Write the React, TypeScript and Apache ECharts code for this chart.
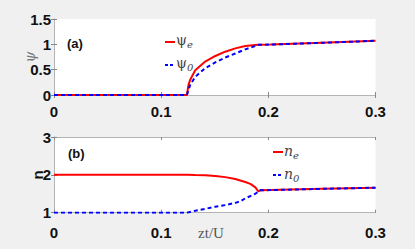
import React, { useEffect, useRef } from "react";
import * as echarts from "echarts";

const tPsi = [0, 0.05, 0.1, 0.124, 0.1255, 0.1271, 0.1318, 0.1411, 0.1505, 0.1598, 0.1692, 0.1785, 0.1879, 0.1907, 0.2019, 0.25, 0.3];
const psiE = [0, 0, 0, 0, 0.2, 0.3, 0.49, 0.66, 0.77, 0.855, 0.92, 0.967, 0.985, 0.99, 0.995, 1.03, 1.07];
const psi0 = [0, 0, 0, 0, 0.1, 0.2, 0.36, 0.53, 0.645, 0.74, 0.82, 0.9, 0.967, 0.99, 0.995, 1.03, 1.07];

const tN = [0, 0.05, 0.1, 0.124, 0.1318, 0.1411, 0.1505, 0.1598, 0.1692, 0.1738, 0.1785, 0.1832, 0.1879, 0.1907, 0.1925, 0.25, 0.3];
const nE = [2, 2, 2, 2, 1.995, 1.99, 1.97, 1.94, 1.89, 1.85, 1.81, 1.76, 1.67, 1.56, 1.59, 1.63, 1.66];
const n0 = [1, 1, 1, 1, 1.05, 1.1, 1.16, 1.2, 1.26, 1.3, 1.38, 1.44, 1.5, 1.56, 1.59, 1.63, 1.66];

const xTicks = [0, 0.1, 0.2, 0.3];
const psiTicks = [0, 0.5, 1, 1.5];
const nTicks = [1, 2, 3];

const RED = "#ff0000";
const BLUE = "#0000ff";
const BOX = "#b4b4b4";
const TICKFONT = "'Liberation Sans Narrow', 'Arial Narrow', Arial, sans-serif";

function pairs(xs: number[], ys: number[]) {
  return xs.map((x, i) => [x, ys[i]]);
}

export default function App() {
  const ref = useRef<HTMLDivElement>(null);
  useEffect(() => {
    document.body.style.background = "#f0f0f0";
    const chart = echarts.init(ref.current!, null, { renderer: "svg" });
    const labelStyle = {
      color: "#111",
      fontFamily: TICKFONT,
      fontWeight: "bold" as const,
      fontSize: 15,
    };
    const mkX = (gridIndex: number, margin: number) => [
      {
        type: "value", gridIndex, min: 0, max: 0.3, interval: 0.1, position: "bottom",
        axisLine: { show: true, lineStyle: { color: BOX, width: 1 } },
        axisTick: { show: true, inside: true, length: 3, lineStyle: { color: "#888" } },
        axisLabel: { ...labelStyle, margin, formatter: (v: number) => (xTicks.includes(Math.round(v * 10) / 10) ? String(Math.round(v * 10) / 10) : "") },
        splitLine: { show: false },
      },
      {
        type: "value", gridIndex, min: 0, max: 0.3, interval: 0.1, position: "top",
        axisLine: { show: true, lineStyle: { color: BOX, width: 1 } },
        axisTick: { show: true, inside: true, length: 3, lineStyle: { color: "#888" } },
        axisLabel: { show: false },
        splitLine: { show: false },
      },
    ];
    const mkY = (gridIndex: number, min: number, max: number, interval: number) => [
      {
        type: "value", gridIndex, min, max, interval, position: "left",
        axisLine: { show: true, lineStyle: { color: BOX, width: 1 } },
        axisTick: { show: true, inside: true, length: 3, lineStyle: { color: "#888" } },
        axisLabel: { ...labelStyle, margin: 3 },
        splitLine: { show: false },
      },
      {
        type: "value", gridIndex, min, max, interval, position: "right",
        axisLine: { show: true, lineStyle: { color: BOX, width: 1 } },
        axisTick: { show: true, inside: true, length: 3, lineStyle: { color: "#888" } },
        axisLabel: { show: false },
        splitLine: { show: false },
      },
    ];
    const line = (name: string, data: number[][], color: string, dashed: boolean, xi: number, yi: number) => ({
      type: "line", name, data, xAxisIndex: xi, yAxisIndex: yi, showSymbol: false, symbol: "none",
      lineStyle: { color, width: 2, type: dashed ? [4, 3] : "solid" },
      z: dashed ? 3 : 2,
    });
    const legText = (x: number, y: number, main: string, sub: string, italicMain: boolean) => ({
      type: "text", x, y,
      style: {
        text: `{m|${main}}{s|${sub}}`,
        rich: {
          m: { fontFamily: "'DejaVu Serif', serif", fontStyle: italicMain ? "italic" : "normal", fontSize: 14, fill: "#444", color: "#444" },
          s: { fontFamily: "'DejaVu Serif', serif", fontStyle: "italic", fontSize: 10, fill: "#444", color: "#444", padding: [8, 0, 0, 0] },
        },
        verticalAlign: "middle",
      },
    });
    const legLine = (x1: number, y: number, color: string, dashed: boolean) => ({
      type: "line", shape: { x1, y1: y, x2: x1 + 10, y2: y },
      style: { stroke: color, lineWidth: 2, lineDash: dashed ? [3, 2] : null },
    });
    chart.setOption({
      animation: false,
      backgroundColor: "#f0f0f0",
      grid: [
        { left: 54, top: 19, width: 321.5, height: 76, show: true, backgroundColor: "#fff", borderWidth: 0 },
        { left: 54, top: 137, width: 321.5, height: 75.7, show: true, backgroundColor: "#fff", borderWidth: 0 },
      ],
      xAxis: [...mkX(0, 9), ...mkX(1, 12)],
      yAxis: [...mkY(0, 0, 1.5, 0.5), ...mkY(1, 1, 3, 1)],
      series: [
        line("psi_e", pairs(tPsi, psiE), RED, false, 0, 0),
        line("psi_0", pairs(tPsi, psi0), BLUE, true, 0, 0),
        line("n_e", pairs(tN, nE), RED, false, 2, 2),
        line("n_0", pairs(tN, n0), BLUE, true, 2, 2),
      ],
      graphic: [
        { type: "text", x: 67, y: 43, style: { text: "(a)", fontFamily: TICKFONT, fontWeight: "bold", fontSize: 13, fill: "#111", verticalAlign: "middle" } },
        { type: "text", x: 68, y: 153, style: { text: "(b)", fontFamily: TICKFONT, fontWeight: "bold", fontSize: 13, fill: "#111", verticalAlign: "middle" } },
        legLine(165, 42, RED, false),
        legText(176, 40, "ψ", "e", false),
        legLine(165, 65, BLUE, true),
        legText(176, 63, "ψ", "0", false),
        legLine(273, 152, RED, false),
        legText(284, 151, "n", "e", true),
        legLine(273, 175, BLUE, true),
        legText(284, 174, "n", "0", true),
        { type: "text", x: 30, y: 57, rotation: Math.PI / 2, style: { text: "ψ", fontFamily: "'DejaVu Serif', serif", fontStyle: "italic", fontSize: 14, fill: "#777", align: "center", verticalAlign: "middle" } },
        { type: "text", x: 37, y: 175, rotation: Math.PI / 2, style: { text: "n", fontFamily: "'Liberation Sans', Arial, sans-serif", fontWeight: "bold", fontSize: 15, fill: "#111", align: "center", verticalAlign: "middle" } },
        { type: "text", x: 211, y: 233, style: { text: "zt/U", fontFamily: "'Liberation Serif', 'DejaVu Serif', serif", fontSize: 15, fill: "#555", align: "center", verticalAlign: "middle" } },
      ],
    });
    return () => chart.dispose();
  }, []);
  return <div ref={ref} style={{ position: "fixed", left: 0, top: 0, width: 415, height: 249 }} />;
}
